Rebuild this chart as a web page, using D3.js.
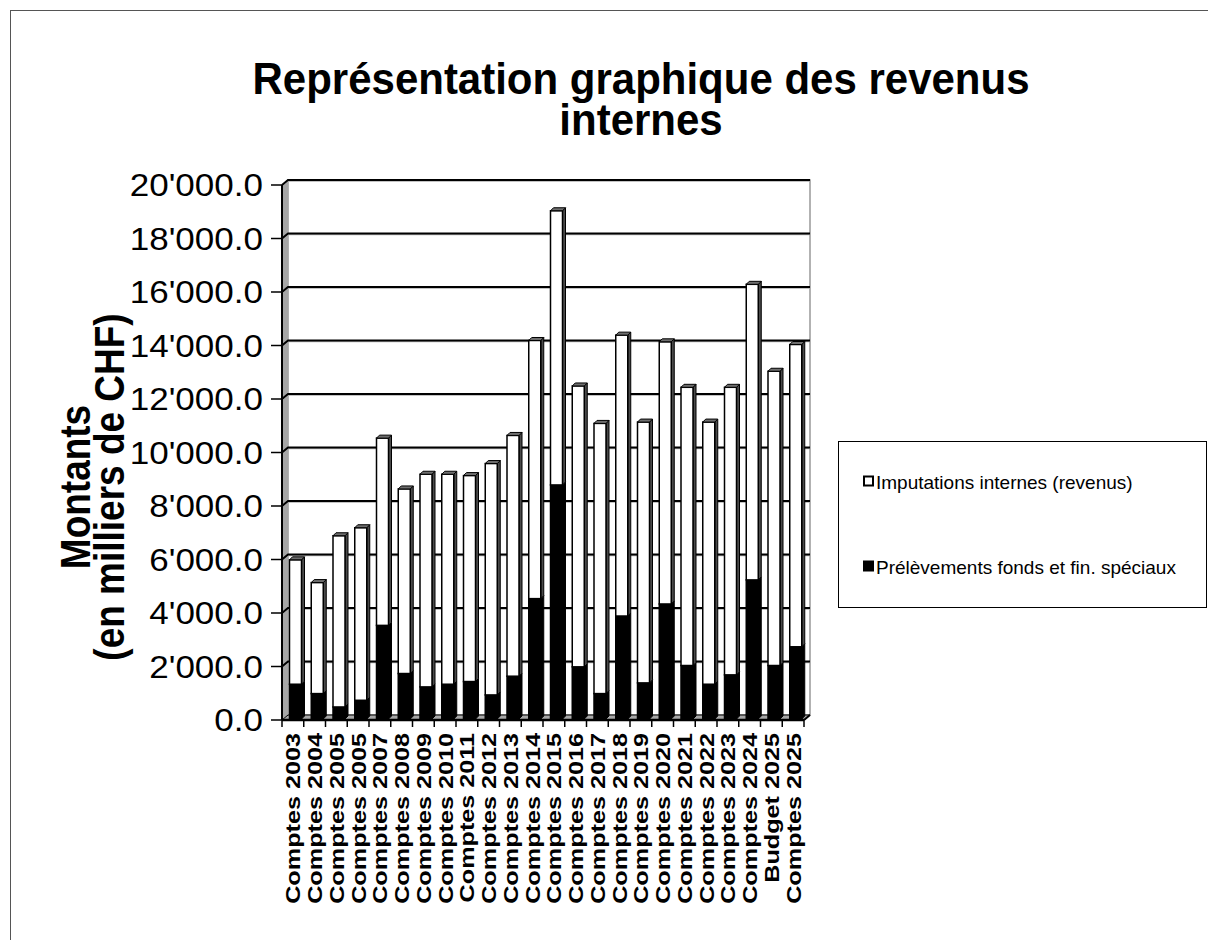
<!DOCTYPE html>
<html>
<head>
<meta charset="utf-8">
<script src="https://cdn.jsdelivr.net/npm/d3@7"></script>
<style>
  body { margin: 0; background: #fff; }
  text { font-family: "Liberation Sans", Arial, sans-serif; }
</style>
</head>
<body>
<script>
// Chart data
var categories = ["Comptes 2003", "Comptes 2004", "Comptes 2005", "Comptes 2005", "Comptes 2007",
  "Comptes 2008", "Comptes 2009", "Comptes 2010", "Comptes 2011", "Comptes 2012", "Comptes 2013",
  "Comptes 2014", "Comptes 2015", "Comptes 2016", "Comptes 2017", "Comptes 2018", "Comptes 2019",
  "Comptes 2020", "Comptes 2021", "Comptes 2022", "Comptes 2023", "Comptes 2024", "Budget 2025",
  "Comptes 2025"];
// bottom series (black)
var prelevements = [1300, 950, 450, 700, 3500, 1700, 1200, 1300, 1400, 900, 1600, 4500,
  8750, 1950, 950, 3850, 1350, 4300, 2000, 1300, 1650, 5200, 2000, 2700];
// top series (white)
var imputations = [4650, 4150, 6400, 6450, 7000, 6900, 7950, 7850, 7700, 8650, 9000, 9650,
  10250, 10500, 10100, 10500, 9750, 9800, 10400, 9800, 10750, 11050, 11000, 11300];
var seriesNames = ["Imputations internes (revenus)", "Prélèvements fonds et fin. spéciaux"];
var yTicks = [0, 2000, 4000, 6000, 8000, 10000, 12000, 14000, 16000, 18000, 20000];

(function() {
  var width = 1208, height = 940;
  // 3D depth of the back wall
  var dX = 6, dY = -5;
  // bar depth and width
  var bd = 3, bw = 12;

  var svg = d3.select("body").append("svg")
      .attr("width", width)
      .attr("height", height);

  // outer frame
  svg.append("rect")
      .attr("x", 10.5).attr("y", 10.5)
      .attr("width", width + 20).attr("height", height + 20)
      .attr("fill", "none").attr("stroke", "#555").attr("stroke-width", 1);

  // title (glyphs a bit taller than plain Arial in the reference)
  var title = svg.append("text")
      .attr("text-anchor", "middle")
      .attr("font-size", 42)
      .attr("font-weight", "bold")
      .attr("transform", "translate(641,0) scale(1,1.06)");
  title.append("tspan").attr("x", 0).attr("y", 88.5).text("Représentation graphique des revenus");
  title.append("tspan").attr("x", 0).attr("y", 127).text("internes");

  var y = d3.scaleLinear().domain([0, 20000]).range([720, 185]);
  var x = d3.scaleBand().domain(d3.range(categories.length)).range([282, 804]);
  var x0 = x.range()[0], x1 = x.range()[1];

  // back wall
  svg.append("rect")
      .attr("x", x0 + dX).attr("y", y(20000) + dY)
      .attr("width", x1 - x0).attr("height", y(0) - y(20000))
      .attr("fill", "#fff").attr("stroke", "#999").attr("stroke-width", 1.5);

  // left side wall
  svg.append("path")
      .attr("d", "M" + x0 + "," + y(0) + "L" + x0 + "," + y(20000) +
                 "L" + (x0 + dX) + "," + (y(20000) + dY) + "L" + (x0 + dX) + "," + (y(0) + dY) + "Z")
      .attr("fill", "#a6a6a6").attr("stroke", "none");

  // floor
  svg.append("path")
      .attr("d", "M" + x0 + "," + y(0) + "L" + x1 + "," + y(0) +
                 "L" + (x1 + dX) + "," + (y(0) + dY) + "L" + (x0 + dX) + "," + (y(0) + dY) + "Z")
      .attr("fill", "#a6a6a6").attr("stroke", "#000").attr("stroke-width", 1);

  // gridlines on back wall + diagonal on side wall
  var grid = svg.append("g");
  yTicks.forEach(function(t) {
    if (t === 0) return;
    grid.append("path")
        .attr("d", "M" + x0 + "," + (y(t) + 1) + "L" + (x0 + dX) + "," + (y(t) + dY + 1) + "L" + (x1 + dX) + "," + (y(t) + dY + 1))
        .attr("fill", "none").attr("stroke", "#b0b0b0").attr("stroke-width", 1.5);
    grid.append("path")
        .attr("d", "M" + x0 + "," + y(t) + "L" + (x0 + dX) + "," + (y(t) + dY) + "L" + (x1 + dX) + "," + (y(t) + dY))
        .attr("fill", "none").attr("stroke", "#000").attr("stroke-width", 2);
  });

  // y axis line and ticks
  svg.append("line")
      .attr("x1", x0).attr("x2", x0).attr("y1", y(20000)).attr("y2", y(0))
      .attr("stroke", "#000").attr("stroke-width", 2);
  svg.selectAll(".ytick")
      .data(yTicks)
      .enter()
      .append("line")
      .attr("x1", x0 - 11).attr("x2", x0)
      .attr("y1", function(d) { return y(d); })
      .attr("y2", function(d) { return y(d); })
      .attr("stroke", "#000").attr("stroke-width", 1.5);
  svg.selectAll(".ylabel")
      .data(yTicks)
      .enter()
      .append("text")
      .attr("text-anchor", "end")
      .attr("font-size", 31)
      .attr("transform", function(d) {
        return "translate(263," + (y(d) + 11) + ") scale(1.13,1)";
      })
      .text(function(d) {
        return d3.format(",.1f")(d).replace(/,/g, "'");
      });

  // x axis line and ticks
  svg.append("line")
      .attr("x1", x0).attr("x2", x1).attr("y1", y(0)).attr("y2", y(0))
      .attr("stroke", "#000").attr("stroke-width", 2.5);
  svg.append("line")
      .attr("x1", x1).attr("x2", x1 + dX).attr("y1", y(0)).attr("y2", y(0) + dY)
      .attr("stroke", "#000").attr("stroke-width", 2);
  svg.selectAll(".xtick")
      .data(d3.range(categories.length + 1))
      .enter()
      .append("line")
      .attr("x1", function(d) { return x0 + d * x.bandwidth(); })
      .attr("x2", function(d) { return x0 + d * x.bandwidth(); })
      .attr("y1", y(0)).attr("y2", y(0) + 7)
      .attr("stroke", "#000").attr("stroke-width", 1.5);

  // y axis title
  var yTitle = svg.append("text")
      .attr("text-anchor", "middle")
      .attr("font-size", 37)
      .attr("font-weight", "bold")
      .attr("transform", "translate(0,487) rotate(-90) scale(1,1.15)");
  yTitle.append("tspan").attr("x", 0).attr("y", 78).text("Montants");
  yTitle.append("tspan").attr("x", 0).attr("y", 108).text("(en milliers de CHF)");

  // stacked bars
  var rows = categories.map(function(c, i) {
    return { i: i, imp: imputations[i], pre: prelevements[i] };
  });
  var stack = d3.stack().keys(["pre", "imp"]);
  var layers = stack(rows);
  var fills = { pre: "#000", imp: "#fff" };
  var sides = { pre: "#000", imp: "#4a4a4a" };
  // bars sit at mid-depth of the floor
  var yb = function(v) { return y(v) - 1; };

  var bars = svg.append("g");
  rows.forEach(function(r, i) {
    var bx = x(i) + 7.5;
    layers.forEach(function(layer, li) {
      var seg = layer[i];
      var top = yb(seg[1]), bot = yb(seg[0]);
      var key = layer.key;
      // side face
      bars.append("path")
          .attr("d", "M" + (bx + bw) + "," + top + "L" + (bx + bw + bd) + "," + (top - bd) +
                     "L" + (bx + bw + bd) + "," + (bot - bd) + "L" + (bx + bw) + "," + bot + "Z")
          .attr("fill", sides[key]).attr("stroke", "#000").attr("stroke-width", 1);
      // front face
      bars.append("rect")
          .attr("x", bx).attr("y", top)
          .attr("width", bw).attr("height", bot - top)
          .attr("fill", fills[key]).attr("stroke", "#000").attr("stroke-width", 1.5);
      // top face on the last segment
      if (li === layers.length - 1) {
        bars.append("path")
            .attr("d", "M" + bx + "," + top + "L" + (bx + bd) + "," + (top - bd) +
                       "L" + (bx + bw + bd) + "," + (top - bd) + "L" + (bx + bw) + "," + top + "Z")
            .attr("fill", "#6e6e6e").attr("stroke", "#000").attr("stroke-width", 1);
      }
    });
  });

  // x labels (stretched along their length as in the reference)
  svg.selectAll(".xlabel")
      .data(categories)
      .enter()
      .append("text")
      .attr("text-anchor", "end")
      .attr("font-size", 21)
      .attr("font-weight", "bold")
      .attr("transform", function(d, i) {
        var cx = x(i) + x.bandwidth() / 2 + 7.5;
        return "translate(" + cx + ",733) rotate(-90) scale(1.2,1)";
      })
      .text(function(d) { return d; });

  // legend
  var legend = svg.append("g");
  legend.append("rect")
      .attr("x", 838.5).attr("y", 441.5)
      .attr("width", 368).attr("height", 166)
      .attr("fill", "#fff").attr("stroke", "#000").attr("stroke-width", 1);
  var legendY = [481.5, 566.5];
  seriesNames.forEach(function(name, k) {
    legend.append("rect")
        .attr("x", 864).attr("y", legendY[k] - 5)
        .attr("width", 9).attr("height", 9)
        .attr("fill", k === 0 ? "#fff" : "#000")
        .attr("stroke", "#000").attr("stroke-width", 2);
    legend.append("text")
        .attr("x", 876).attr("y", legendY[k] + 7)
        .attr("font-size", 19)
        .text(name);
  });
})();
</script>
</body>
</html>
